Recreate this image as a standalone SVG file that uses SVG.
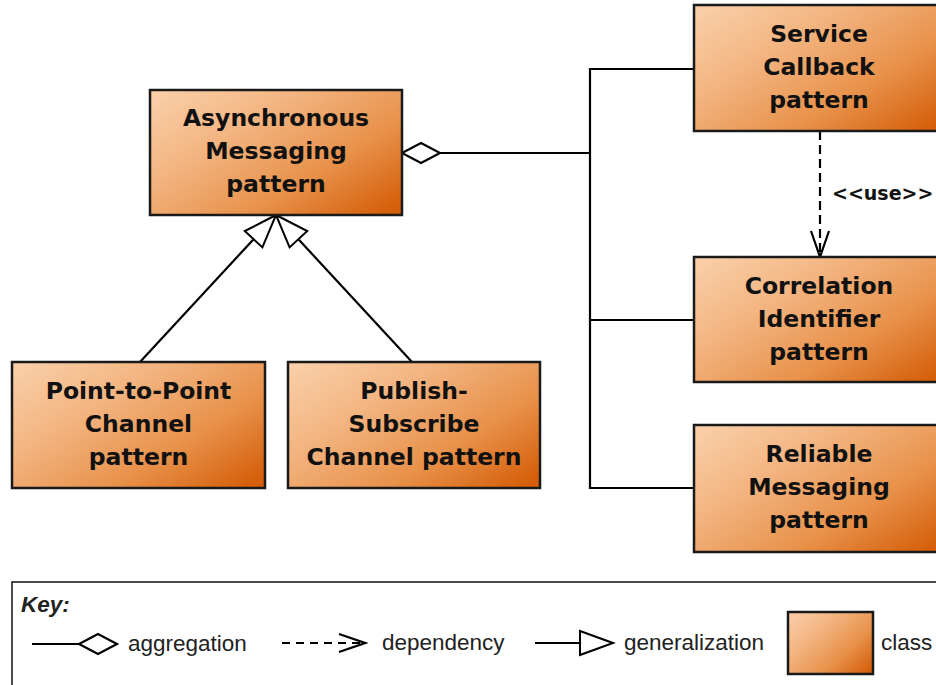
<svg xmlns="http://www.w3.org/2000/svg" width="936" height="685" viewBox="0 0 936 685">
<defs>
<linearGradient id="cls" x1="0" y1="0.1" x2="1" y2="0.9">
<stop offset="0" stop-color="#F9CDA6"/>
<stop offset="0.3" stop-color="#F3B683"/>
<stop offset="0.68" stop-color="#E8914A"/>
<stop offset="1" stop-color="#D55F0A"/>
</linearGradient>
<marker id="gen" markerUnits="userSpaceOnUse" viewBox="-36 -15 40 30" markerWidth="40" markerHeight="30" refX="0" refY="0" orient="auto">
<path d="M0,0 L-33,-12 L-33,12 Z" fill="#fff" stroke="#000" stroke-width="2" stroke-linejoin="miter"/>
</marker>
<marker id="agg" markerUnits="userSpaceOnUse" viewBox="-41 -13 44 26" markerWidth="44" markerHeight="26" refX="0" refY="0" orient="auto">
<path d="M0,0 L-19,-10 L-38,0 L-19,10 Z" fill="#fff" stroke="#000" stroke-width="2.2"/>
</marker>
<marker id="dep" markerUnits="userSpaceOnUse" viewBox="-30 -12 33 24" markerWidth="33" markerHeight="24" refX="0" refY="0" orient="auto">
<path d="M-26,-9 L0,0 L-26,9" fill="none" stroke="#000" stroke-width="2.2"/>
</marker>
</defs>
<style>
.box{fill:url(#cls);stroke:#1a1a1a;stroke-width:2.5}
.lbl{font-family:"DejaVu Sans",Verdana,sans-serif;font-weight:bold;font-size:23.5px;fill:#111;text-anchor:middle}
.ln{fill:none;stroke:#000;stroke-width:2.2}
.dash{stroke-dasharray:9 5}
.key{font-family:"Liberation Sans",Arial,sans-serif;font-size:22.5px;fill:#222}
.use{font-family:"DejaVu Sans",Verdana,sans-serif;font-weight:bold;font-size:19px;fill:#111}
</style>
<rect width="936" height="685" fill="#fff"/>
<g id="connectors">
<path class="ln" d="M694,69 H590 V488 H694 M590,320 H694"/>
<path class="ln" d="M590,153 H402" marker-end="url(#agg)"/>
<path class="ln dash" d="M820,131 V257" marker-end="url(#dep)"/>
<text class="use" x="832" y="200">&lt;&lt;use&gt;&gt;</text>
<path class="ln" d="M140,362 L276,215" marker-end="url(#gen)"/>
<path class="ln" d="M412,362 L276,215" marker-end="url(#gen)"/>
</g>
<g id="async">
<rect class="box" x="150" y="90" width="252" height="125"/>
<text class="lbl" x="276" y="126">Asynchronous</text>
<text class="lbl" x="276" y="159">Messaging</text>
<text class="lbl" x="276" y="192">pattern</text>
</g>
<g id="callback">
<rect class="box" x="694" y="5" width="252" height="126"/>
<text class="lbl" x="819" y="42">Service</text>
<text class="lbl" x="819" y="75">Callback</text>
<text class="lbl" x="819" y="108">pattern</text>
</g>
<g id="correlation">
<rect class="box" x="694" y="257" width="252" height="125"/>
<text class="lbl" x="819" y="294">Correlation</text>
<text class="lbl" x="819" y="327">Identifier</text>
<text class="lbl" x="819" y="360">pattern</text>
</g>
<g id="reliable">
<rect class="box" x="694" y="425" width="252" height="127"/>
<text class="lbl" x="819" y="462">Reliable</text>
<text class="lbl" x="819" y="495">Messaging</text>
<text class="lbl" x="819" y="528">pattern</text>
</g>
<g id="p2p">
<rect class="box" x="12" y="362" width="253" height="126"/>
<text class="lbl" x="138.5" y="399">Point-to-Point</text>
<text class="lbl" x="138.5" y="432">Channel</text>
<text class="lbl" x="138.5" y="465">pattern</text>
</g>
<g id="pubsub">
<rect class="box" x="288" y="362" width="252" height="126"/>
<text class="lbl" x="414" y="399">Publish-</text>
<text class="lbl" x="414" y="432">Subscribe</text>
<text class="lbl" x="414" y="465">Channel pattern</text>
</g>
<g id="key">
<rect x="12" y="582" width="940" height="120" fill="#fff" stroke="#111" stroke-width="1.5"/>
<text class="key" x="21" y="612" font-weight="bold" font-style="italic" font-size="25px" fill="#111">Key:</text>
<path class="ln" d="M32,644 H117" marker-end="url(#agg)"/>
<text class="key" x="128" y="651">aggregation</text>
<path class="ln" d="M282,643 H365" stroke-dasharray="8 6" marker-end="url(#dep)"/>
<text class="key" x="382" y="650">dependency</text>
<path class="ln" d="M535,643 H613" marker-end="url(#gen)"/>
<text class="key" x="624" y="650">generalization</text>
<rect class="box" x="788" y="612" width="85" height="62"/>
<text class="key" x="881" y="650">class</text>
</g>
</svg>
